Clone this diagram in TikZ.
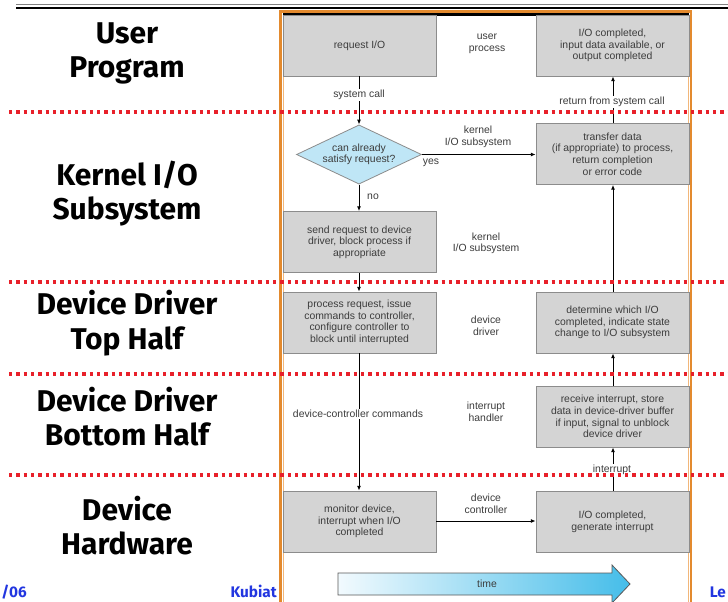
\documentclass[tikz,border=0pt]{standalone}
\usepackage{fontspec}
\setmainfont{Liberation Sans}
\newfontfamily\labfont{Fira Sans}
\usetikzlibrary{arrows.meta,shapes.geometric}
\definecolor{boxfill}{HTML}{D4D4D4}
\definecolor{boxedge}{HTML}{8C8C8C}
\definecolor{txt}{HTML}{3C3C3C}
\definecolor{diafill}{HTML}{BFE6F6}
\definecolor{frameA}{HTML}{E38A2E}
\definecolor{frameB}{HTML}{F2B77A}
\definecolor{dotred}{HTML}{E8202A}
\definecolor{timeL}{HTML}{F2FAFE}
\definecolor{timeR}{HTML}{45BDE9}
\definecolor{footblue}{HTML}{2236E0}
\tikzset{
  box/.style={draw=boxedge, fill=boxfill, line width=0.6pt, minimum width=114.75pt, minimum height=45.75pt, inner sep=0pt, align=center, text=txt, font=\fontsize{7.8}{8.7}\selectfont},
  lbl/.style={align=center, text=txt, font=\fontsize{7.8}{8.7}\selectfont, inner sep=1pt},
  wlbl/.style={lbl, fill=white},
  arr/.style={line width=0.7pt, -{Latex[length=3.6pt,width=3pt]}},
  layer/.style={align=center, font=\labfont\bfseries\fontsize{22.5}{26}\selectfont},
  reddots/.style={dotred, line width=2.3pt, dash pattern=on 2.6pt off 2.9pt},
  foot/.style={font=\labfont\bfseries\fontsize{11.5}{14}\selectfont, text=footblue, inner sep=0pt},
}
\begin{document}
\begin{tikzpicture}[x=0.75pt,y=-0.75pt]
\clip (0,0) rectangle (728,601);
\fill[white] (0,0) rectangle (728,601);
% top rule
\draw[gray, line width=1.2pt] (16,4.5) -- (728,4.5);
\draw[black, line width=1.5pt] (16,7.5) -- (728,7.5);
% footer texts
\node[foot, anchor=base west] (f1) at (1,597) {/06};
\node[foot, anchor=base east] (f2) at (277,597) {Kubiat};
\node[foot, anchor=base east] (f3) at (726,597) {Le};
% frame
\draw[frameA, line width=1.6pt, fill=white] (280.5,11.5) rectangle (691,640);
\draw[frameB, line width=0.8pt] (283.2,14) rectangle (688.5,640);
\draw[black, line width=1.6pt] (283,14.5) -- (689,14.5);
% layer labels
\node[layer] (l1) at (127,53.5) {User\\Program};
\node[layer] (l2) at (127,193.5) {Kernel I/O\\Subsystem};
\node[layer] (l3) at (127,323) {Device Driver\\Top Half};
\node[layer] (l4) at (127,416.5) {Device Driver\\Bottom Half};
\node[layer] (l5) at (127,525.5) {Device\\Hardware};
% boxes
\node[box] (req) at (359.5,45.5) {request I/O};
\node[box] (done) at (612.5,45.5) {I/O completed,\\input data available, or\\output completed};
\node[draw=boxedge, fill=diafill, line width=0.6pt, diamond, aspect=1.92, minimum width=93.75pt, inner sep=0pt, align=center, text=txt, font=\fontsize{7.8}{8.7}\selectfont] (dia) at (359,154.5) {can already\\satisfy request?};
\node[box] (xfer) at (612.5,154) {transfer data\\(if appropriate) to process,\\return completion\\or error code};
\node[box] (send) at (359.5,242) {send request to device\\driver, block process if\\appropriate};
\node[box] (proc) at (359.5,322.5) {process request, issue\\commands to controller,\\configure controller to\\block until interrupted};
\node[box] (det) at (612.5,322.5) {determine which I/O\\completed, indicate state\\change to I/O subsystem};
\node[box] (recv) at (612.5,416.5) {receive interrupt, store\\data in device-driver buffer\\if input, signal to unblock\\device driver};
\node[box] (mon) at (359.5,521.5) {monitor device,\\interrupt when I/O\\completed};
\node[box] (gen) at (612.5,521.5) {I/O completed,\\generate interrupt};
% connectors
\draw[arr] (req.south -| dia.north) -- (dia.north);
\draw[arr] (xfer.north -| 613,0) -- (done.south -| 613,0);
\draw[arr] (dia.east) -- (dia.east -| xfer.west);
\draw[arr] (dia.south) -- (dia.south |- send.north);
\draw[arr] (send.south -| dia.south) -- (proc.north -| dia.south);
\draw[arr] (proc.south -| dia.south) -- (mon.north -| dia.south);
\draw[arr] (mon.east |- 0,521) -- (gen.west |- 0,521);
\draw[arr] (gen.north -| 613,0) -- (recv.south -| 613,0);
\draw[arr] (recv.north -| 613,0) -- (det.south -| 613,0);
\draw[arr] (det.north -| 613,0) -- (xfer.south -| 613,0);
% connector labels
\node[wlbl] (sc) at (359,95) {system call};
\node[wlbl] (rs) at (612,102) {return from system call};
\node[wlbl] (dc) at (358,414) {device-controller commands};
\node[wlbl] (it) at (612,470) {interrupt};
\node[lbl] (yes) at (431,163) {yes};
\node[lbl] (no) at (373,196.5) {no};
% middle labels
\node[lbl] (m1) at (487,44) {user\\process};
\node[lbl] (m2) at (478,137) {kernel\\I/O subsystem};
\node[lbl] (m3) at (486,243.5) {kernel\\I/O subsystem};
\node[lbl] (m4) at (486,325.5) {device\\driver};
\node[lbl] (m5) at (486,412) {interrupt\\handler};
\node[lbl] (m6) at (486,504) {device\\controller};
% time arrow
\draw[draw=gray!70!black, line width=0.6pt, left color=timeL, right color=timeR]
  (338,573) -- (612,573) -- (612,565) -- (630,584) -- (612,603) -- (612,595) -- (338,595) -- cycle;
\node[lbl] (time) at (487,584) {time};
% red dotted separators
\draw[reddots] (9,112) -- (728,112);
\draw[reddots] (9,282) -- (728,282);
\draw[reddots] (9,374) -- (728,374);
\draw[reddots] (9,475) -- (728,475);
\end{tikzpicture}
\end{document}
